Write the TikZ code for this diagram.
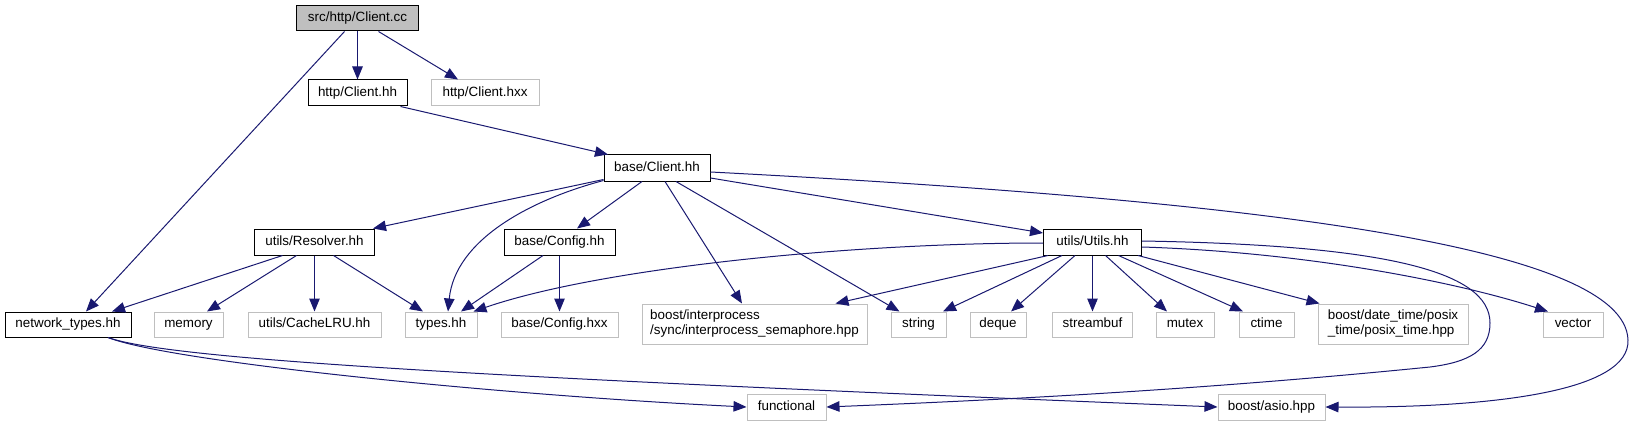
\documentclass[tikz,border=0pt]{standalone}
\usepackage{fontspec}
\setmainfont{Liberation Sans}
\usetikzlibrary{arrows.meta,calc}
\definecolor{edgecol}{HTML}{191970}
\definecolor{greyb}{HTML}{BFBFBF}
\begin{document}
\begin{tikzpicture}[x=1pt,y=-1pt,
  box/.style={draw, line width=1pt, inner sep=0pt, font=\fontsize{13.4}{15}\selectfont, minimum height=26pt},
  one/.style={text height=9.6pt, text depth=2.8pt},
  doc/.style={box, one, draw=black, fill=white},
  ext/.style={box, one, draw=greyb, fill=white},
  extb/.style={box, draw=greyb, fill=white, align=left, minimum height=40pt},
  root/.style={box, one, draw=black, fill=greyb},
  e/.style={draw=edgecol, line width=1pt, -{Triangle[length=13pt,width=10.5pt]}}]
\useasboundingbox (0,0) rectangle (1636,425);
% row 1
\node[root, minimum width=122pt, minimum height=25pt] (cc) at (357.5,18.5) {src/http/Client.cc};
% row 2
\node[doc, minimum width=99pt] (chh) at (357.5,93) {http/Client.hh};
\node[ext, minimum width=108pt] (chxx) at (485,93) {http/Client.hxx};
% row 3
\node[doc, minimum width=106pt] (bch) at (657,168) {base/Client.hh};
% row 4
\node[doc, minimum width=120pt] (res) at (314.5,242) {utils/Resolver.hh};
\node[doc, minimum width=111pt] (cfg) at (559.5,242) {base/Config.hh};
\node[doc, minimum width=98pt] (utl) at (1092.5,242) {utils/Utils.hh};
% row 5
\node[doc, minimum width=126pt, minimum height=25pt] (net) at (68,324.5) {network\_types.hh};
\node[ext, minimum width=69pt, minimum height=25pt] (mem) at (188.5,324.5) {memory};
\node[ext, minimum width=133pt, minimum height=25pt] (lru) at (314.5,324.5) {utils/CacheLRU.hh};
\node[ext, minimum width=72pt, minimum height=25pt] (typ) at (441,324.5) {types.hh};
\node[ext, minimum width=117pt, minimum height=25pt] (cfx) at (559.5,324.5) {base/Config.hxx};
\node[extb, minimum width=225pt] (ipc) at (754.5,324) {boost/interprocess\\/sync/interprocess\_semaphore.hpp};
\node[ext, minimum width=55pt, minimum height=25pt] (str) at (918.5,324.5) {string};
\node[ext, minimum width=56pt, minimum height=25pt] (deq) at (998,324.5) {deque};
\node[ext, minimum width=80pt, minimum height=25pt] (sbf) at (1092.5,324.5) {streambuf};
\node[ext, minimum width=58pt, minimum height=25pt] (mtx) at (1185,324.5) {mutex};
\node[ext, minimum width=55pt, minimum height=25pt] (ctm) at (1266.5,324.5) {ctime};
\node[extb, minimum width=150pt] (dtt) at (1393,324) {boost/date\_time/posix\\\_time/posix\_time.hpp};
\node[ext, minimum width=60pt, minimum height=25pt] (vec) at (1573,324.5) {vector};
% row 6
\node[ext, minimum width=79pt] (fun) at (786.5,407) {functional};
\node[ext, minimum width=107pt] (asio) at (1271.5,407) {boost/asio.hpp};
% edges from src/http/Client.cc
\draw[e] ($(cc.south)+(-13,0)$) -- ($(net.north)+(18,0)$);
\draw[e] (cc.south) -- (cc.south |- chh.north);
\draw[e] ($(cc.south)+(21,0)$) -- ($(chxx.north)+(-27,0)$);
% http/Client.hh
\draw[e] ($(chh.south)+(43,0)$) -- ($(bch.north)+(-49,0)$);
% base/Client.hh
\draw[e] ($(bch.south west)+(0,-2)$) -- ($(res.north east)+(-2,0)$);
\draw[e] ($(bch.south west)+(0,-1)$) .. controls (530,200) and (455,240) .. ($(typ.north)+(7,0)$);
\draw[e] ($(bch.south)+(-15,0)$) -- ($(cfg.north)+(17.5,0)$);
\draw[e] ($(bch.south)+(8,0)$) -- ($(ipc.north)+(-12.5,0)$);
\draw[e] ($(bch.south)+(19,0)$) -- ($(str.north)+(-19,0)$);
\draw[e] ($(bch.east)+(0,10)$) -- ($(utl.west)+(0,-9)$);
\draw[e] ($(bch.east)+(0,4)$) .. controls (1250,200) and (1625,245) .. (1628,340) .. controls (1630,390) and (1500,408) .. (asio.east);
% utils/Resolver.hh
\draw[e] ($(res.south)+(-32,0)$) -- ($(net.north)+(44,0)$);
\draw[e] ($(res.south)+(-18,0)$) -- ($(mem.north)+(18.5,0)$);
\draw[e] (res.south) -- (res.south |- lru.north);
\draw[e] ($(res.south)+(19,0)$) -- ($(typ.north)+(-18,0)$);
% base/Config.hh
\draw[e] ($(cfg.south)+(-16.5,0)$) -- ($(typ.north)+(20,0)$);
\draw[e] (cfg.south) -- (cfx.north);
% utils/Utils.hh
\draw[e] ($(utl.west)+(0,1)$) .. controls (850,243) and (600,268) .. ($(typ.north east)+(-4,0)$);
\draw[e] ($(utl.south west)+(5,0)$) -- ($(ipc.north east)+(-32,0)$);
\draw[e] ($(utl.south west)+(19,0)$) -- ($(str.north)+(24.5,0)$);
\draw[e] ($(utl.south west)+(32,0)$) -- ($(deq.north)+(13,0)$);
\draw[e] (utl.south) -- (sbf.north);
\draw[e] ($(utl.south)+(13,0)$) -- ($(mtx.north)+(-18,0)$);
\draw[e] ($(utl.south)+(26,0)$) -- ($(ctm.north)+(-23.5,0)$);
\draw[e] ($(utl.south east)+(-4,0)$) -- ($(dtt.north west)+(2,0)$);
\draw[e] ($(utl.east)+(0,5)$) .. controls (1300,252) and (1450,280) .. ($(vec.north)+(-25,0)$);
\draw[e] ($(utl.east)+(0,-1)$) .. controls (1380,245) and (1490,270) .. (1490,323) .. controls (1490,350) and (1470,362) .. (1430,367) .. controls (1200,390) and (1000,400) .. (fun.east);
% network_types.hh
\draw[e] ($(net.south)+(40,0)$) .. controls (170,362) and (500,395) .. (fun.west);
\draw[e] ($(net.south)+(40,0)$) .. controls (170,360) and (500,378) .. (asio.west);
\end{tikzpicture}
\end{document}
